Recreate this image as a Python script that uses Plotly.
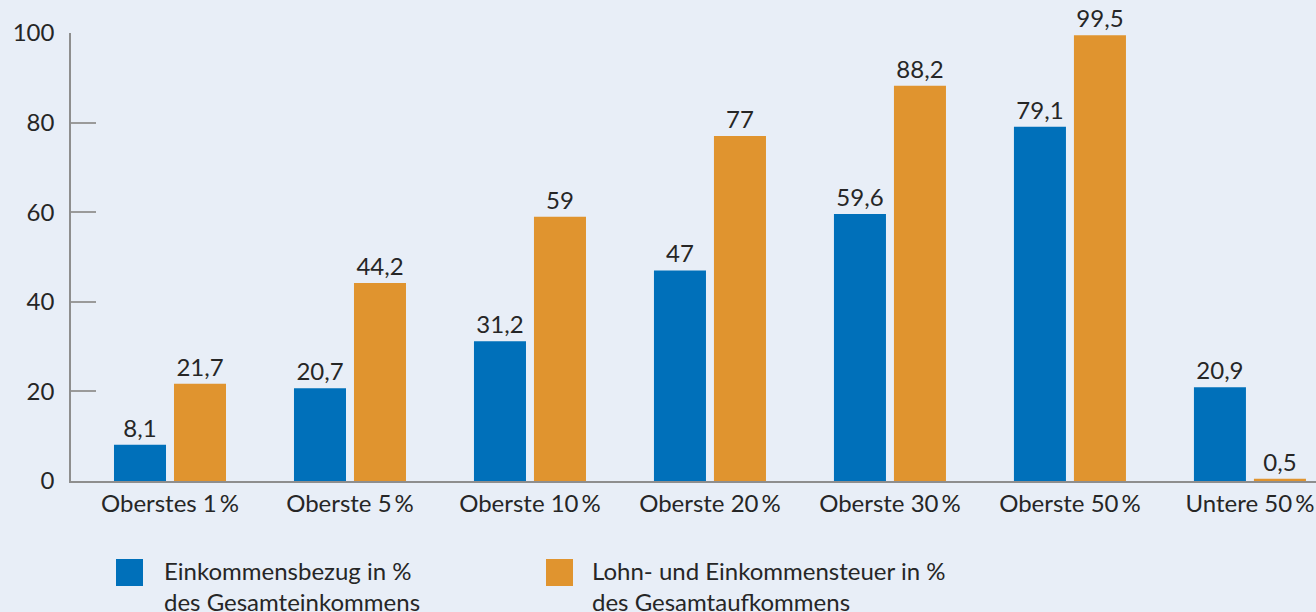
import plotly.graph_objects as go

categories = ["Oberstes 1\u2009%", "Oberste 5\u2009%", "Oberste 10\u2009%", "Oberste 20\u2009%",
              "Oberste 30\u2009%", "Oberste 50\u2009%", "Untere 50\u2009%"]
einkommen = [8.1, 20.7, 31.2, 47, 59.6, 79.1, 20.9]
steuer = [21.7, 44.2, 59, 77, 88.2, 99.5, 0.5]
series_names = ["Einkommensbezug in %<br>des Gesamteinkommens",
                "Lohn- und Einkommensteuer in %<br>des Gesamtaufkommens"]
y_ticks = [0, 20, 40, 60, 80, 100]

BLUE = "#0070BA"
ORANGE = "#E0942F"
BG = "#E8EEF7"
TXT = "#262626"
FONT = "Lato"
FS = 24

def fmt(v):
    return (f"{v:g}").replace(".", ",")

W, H = 1316, 612
L, R, T, B = 71, 0, 33, 131

fig = go.Figure()
for vals, col in [(einkommen, BLUE), (steuer, ORANGE)]:
    fig.add_trace(go.Bar(
        x=list(range(len(categories))), y=vals, marker_color=col, marker_line_width=0,
        text=[fmt(v) for v in vals], textposition="outside", cliponaxis=False,
        textfont=dict(family=FONT, size=FS, color=TXT), showlegend=False,
    ))

fig.update_layout(
    width=W, height=H, paper_bgcolor=BG, plot_bgcolor=BG,
    margin=dict(l=L, r=R, t=T, b=B),
    barmode="group", bargap=1/3, bargroupgap=0.133,
    font=dict(family=FONT, size=FS, color=TXT),
    uniformtext=dict(mode=False),
)
fig.update_xaxes(
    range=[-0.55, 6.367], tickmode="array", tickvals=list(range(len(categories))),
    ticktext=categories, showgrid=False, zeroline=False, showline=True,
    linecolor="#8E8E8E", linewidth=1.5, ticks="", tickfont=dict(family=FONT, size=FS, color=TXT),
)
fig.update_yaxes(
    range=[0, 100], tickvals=y_ticks, showgrid=False, zeroline=False, showline=True,
    linecolor="#8E8E8E", linewidth=1.5, ticks="inside", ticklen=25, tickcolor="#9A9A9A",
    tickwidth=1.5, tickfont=dict(family=FONT, size=FS, color=TXT), ticklabelstandoff=10,
)

# manual legend (pixel positions converted to paper coordinates)
pw, ph = W - L - R, H - T - B
def px(x):
    return (x - L) / pw
def py(y):
    return (H - B - y) / ph

for (sx, tx), name, col in zip([(116, 162), (546, 590)], series_names, [BLUE, ORANGE]):
    fig.add_shape(type="rect", xref="paper", yref="paper",
                  x0=px(sx), x1=px(sx + 27), y0=py(586), y1=py(559),
                  fillcolor=col, line_width=0)
    fig.add_annotation(xref="paper", yref="paper", x=px(tx), y=py(554),
                       xanchor="left", yanchor="top", text=name, showarrow=False,
                       align="left", font=dict(family=FONT, size=FS, color=TXT))

fig.write_html("out.html", config={"displayModeBar": False})

with open("out.html", "r", encoding="utf-8") as f:
    html = f.read()
html = html.replace("<head>", "<head><style>html,body{margin:0;padding:0;overflow:hidden;}</style>", 1)
with open("out.html", "w", encoding="utf-8") as f:
    f.write(html)
